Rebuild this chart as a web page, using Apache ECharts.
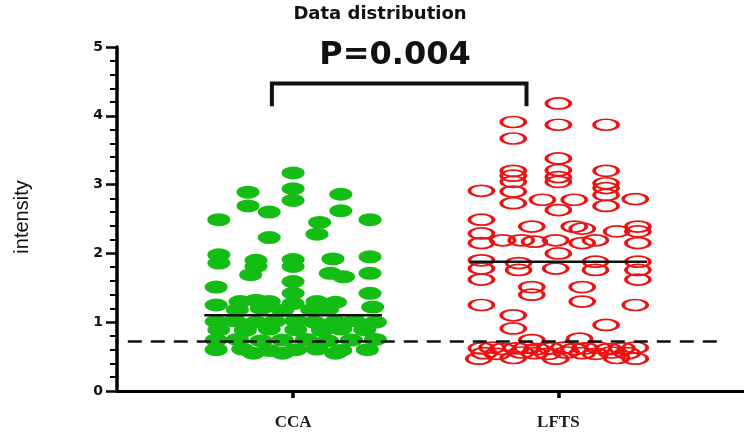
<!DOCTYPE html>
<html>
<head>
<meta charset="utf-8">
<script src="https://cdn.jsdelivr.net/npm/echarts@6/dist/echarts.min.js"></script>
<style>
html,body{margin:0;padding:0;background:#fff;}
#chart{width:744px;height:436px;}
</style>
</head>
<body>
<div id="chart"></div>
<script>
// ---- data ----
const categories = ['CCA', 'LFTS'];
const yTicks = [0, 1, 2, 3, 4, 5];

// CCA: jitter (category units, relative to group centre) and intensity values
const ccaJitter = [
  0.00, 0.00, 0.00, -0.17, -0.17, -0.09, 0.18, 0.18, -0.28, 0.29, 0.10, 0.09, -0.09,
  -0.28, -0.28, -0.14, -0.14, 0.00, 0.00, 0.15, 0.29, -0.16, 0.00, 0.00, 0.14, 0.19, 0.29,
  -0.29, 0.29,
  -0.29, -0.20, -0.14, -0.09, 0.00, 0.09, 0.16, 0.30,
  -0.21, -0.12, -0.04, 0.07, 0.13,
  -0.29, -0.22, -0.14, -0.07, 0.01, 0.08, 0.16, 0.23, 0.31,
  -0.28, -0.18, -0.09, 0.01, 0.11, 0.18, 0.27,
  -0.29, -0.21, -0.12, -0.04, 0.05, 0.13, 0.22, 0.31,
  -0.29, -0.19, -0.09, 0.01, 0.09, 0.18, 0.28,
  -0.15, -0.04, 0.16
];
const ccaValues = [
  3.17, 2.94, 2.77, 2.89, 2.69, 2.60, 2.86, 2.62, 2.49, 2.49, 2.45, 2.28, 2.23,
  1.98, 1.86, 1.90, 1.81, 1.91, 1.81, 1.92, 1.95, 1.69, 1.59, 1.42, 1.71, 1.66, 1.71,
  1.51, 1.42,
  1.25, 1.30, 1.32, 1.30, 1.27, 1.30, 1.29, 1.22,
  1.18, 1.20, 1.17, 1.18, 1.19,
  1.01, 1.02, 1.00, 1.01, 1.02, 1.00, 1.01, 1.02, 1.00,
  0.89, 0.88, 0.90, 0.89, 0.88, 0.90, 0.89,
  0.74, 0.75, 0.73, 0.74, 0.75, 0.73, 0.74, 0.75,
  0.60, 0.61, 0.59, 0.60, 0.61, 0.59, 0.60,
  0.55, 0.55, 0.55
];

// LFTS: jitter and intensity values
const lftsJitter = [
  0.00, -0.17, -0.17, 0.00, 0.18, 0.00,
  -0.17, -0.17, -0.17, 0.00, 0.00, 0.00, 0.18, 0.18,
  -0.29, -0.17, -0.17, -0.06, 0.06, 0.00, 0.18, 0.18, 0.18, 0.29,
  -0.29, -0.29, -0.29, -0.21, -0.14, -0.10, -0.09, -0.01, 0.06, 0.09, 0.09, 0.14, 0.22, 0.30, 0.30, 0.30, 0.00,
  -0.29, -0.29, -0.15, -0.15, -0.01, 0.14, 0.14, 0.30, 0.30,
  -0.29, 0.30,
  -0.10, -0.10, 0.09, 0.09, -0.29, 0.29, -0.17, -0.17, 0.18, -0.10, 0.08,
  -0.29, -0.25, -0.21, -0.16, -0.12, -0.08, -0.03, 0.02, 0.06, 0.10, 0.15, 0.19, 0.24, 0.29,
  -0.28, -0.23, -0.14, -0.09, -0.04, 0.03, 0.09, 0.14, 0.20, 0.26,
  -0.30, -0.17, -0.01, 0.22, 0.29
];
const lftsValues = [
  4.18, 3.91, 3.67, 3.87, 3.87, 3.38,
  3.20, 3.13, 3.04, 3.21, 3.11, 3.04, 3.20, 3.02,
  2.91, 2.90, 2.73, 2.78, 2.78, 2.63, 2.95, 2.85, 2.69, 2.79,
  2.49, 2.29, 2.15, 2.19, 2.19, 2.39, 2.17, 2.19, 2.39, 2.36, 2.15, 2.19, 2.32, 2.39, 2.32, 2.15, 2.00,
  1.90, 1.78, 1.86, 1.76, 1.78, 1.88, 1.76, 1.88, 1.76,
  1.62, 1.62,
  1.51, 1.40, 1.51, 1.30, 1.25, 1.25, 1.10, 0.91, 0.96, 0.74, 0.76,
  0.62, 0.63, 0.61, 0.62, 0.63, 0.61, 0.62, 0.63, 0.61, 0.62, 0.63, 0.61, 0.62, 0.63,
  0.55, 0.54, 0.56, 0.55, 0.54, 0.56, 0.55, 0.54, 0.56, 0.55,
  0.47, 0.48, 0.47, 0.48, 0.47
];

const groupMeans = [1.10, 1.88];
const meanHalfWidth = 0.335;
const thresholdValue = 0.72;
const pValueText = 'P=0.004';
const bracketEnds = [0.92, 1.88];
const bracketY = [4.14, 4.47];

// ---- build ----
const ccaData = ccaValues.map((v, i) => [1 + ccaJitter[i], v]);
const lftsData = lftsValues.map((v, i) => [2 + lftsJitter[i], v]);
const meanSeries = groupMeans.map((m, i) => ({
  type: 'line',
  data: [[i + 1 - meanHalfWidth, m], [i + 1 + meanHalfWidth, m]],
  symbol: 'none',
  lineStyle: { color: '#111', width: 2.5 },
  z: 5,
  silent: true
}));

const chart = echarts.init(document.getElementById('chart'), null, { renderer: 'canvas' });
chart.setOption({
  animation: false,
  backgroundColor: '#fff',
  grid: { left: 117, right: 0, top: 47, bottom: 45 },
  xAxis: {
    type: 'value',
    min: 0.336,
    max: 2.70,
    splitLine: { show: false },
    axisLine: { show: true, onZero: false, lineStyle: { color: '#000', width: 3 } },
    axisTick: { show: true, customValues: [1, 2], length: 7, lineStyle: { color: '#000', width: 3.5 } },
    axisLabel: {
      show: true,
      customValues: [1, 2],
      formatter: v => categories[Math.round(v) - 1],
      margin: 23,
      fontFamily: '"Liberation Serif", "DejaVu Serif", serif',
      fontWeight: 'bold',
      fontSize: 17,
      color: '#1a1a1a'
    }
  },
  yAxis: {
    type: 'value',
    min: yTicks[0],
    max: yTicks[yTicks.length - 1],
    interval: 1,
    splitLine: { show: false },
    axisLine: { show: true, onZero: false, lineStyle: { color: '#000', width: 3.5 } },
    axisTick: { show: true, length: 11, lineStyle: { color: '#000', width: 2.5 } },
    minorTick: { show: true, splitNumber: 5, length: 7, lineStyle: { color: '#000', width: 2 } },
    axisLabel: {
      margin: 14,
      fontFamily: '"DejaVu Sans", "Liberation Sans", Arial, sans-serif',
      fontWeight: 'bold',
      fontSize: 14,
      color: '#111'
    }
  },
  graphic: [
    { type: 'text', x: 380, y: 14, style: { text: 'Data distribution', font: 'bold 18px "DejaVu Sans", "Liberation Sans", Arial, sans-serif', fill: '#111', align: 'center', verticalAlign: 'middle' } },
    { type: 'text', x: 395, y: 56, style: { text: pValueText, font: 'bold 32px "DejaVu Sans", "Liberation Sans", Arial, sans-serif', fill: '#111', align: 'center', verticalAlign: 'middle' } },
    { type: 'text', x: 22, y: 217, rotation: Math.PI / 2, style: { text: 'intensity', font: '20px "Liberation Sans", Arial, sans-serif', fill: '#111', align: 'center', verticalAlign: 'middle' } }
  ],
  series: [
    {
      type: 'scatter',
      name: categories[0],
      data: ccaData,
      symbol: 'circle',
      symbolSize: [23, 13],
      itemStyle: { color: '#14bd14', opacity: 1 },
      z: 2
    },
    {
      type: 'scatter',
      name: categories[1],
      data: lftsData,
      symbol: 'circle',
      symbolSize: [24, 11],
      itemStyle: { color: 'rgba(255,255,255,0)', borderColor: '#ee1111', borderWidth: 2.5, opacity: 1 },
      z: 2
    },
    ...meanSeries,
    {
      type: 'line',
      data: [[0.29, thresholdValue], [2.63, thresholdValue]],
      symbol: 'none',
      clip: false,
      lineStyle: { color: '#111', width: 2.5, type: [14, 9] },
      z: 6,
      silent: true
    },
    {
      type: 'line',
      data: [[bracketEnds[0], bracketY[0]], [bracketEnds[0], bracketY[1]], [bracketEnds[1], bracketY[1]], [bracketEnds[1], bracketY[0]]],
      symbol: 'none',
      clip: false,
      lineStyle: { color: '#111', width: 4, join: 'miter', cap: 'butt' },
      z: 6,
      silent: true
    }
  ]
});
</script>
</body>
</html>
